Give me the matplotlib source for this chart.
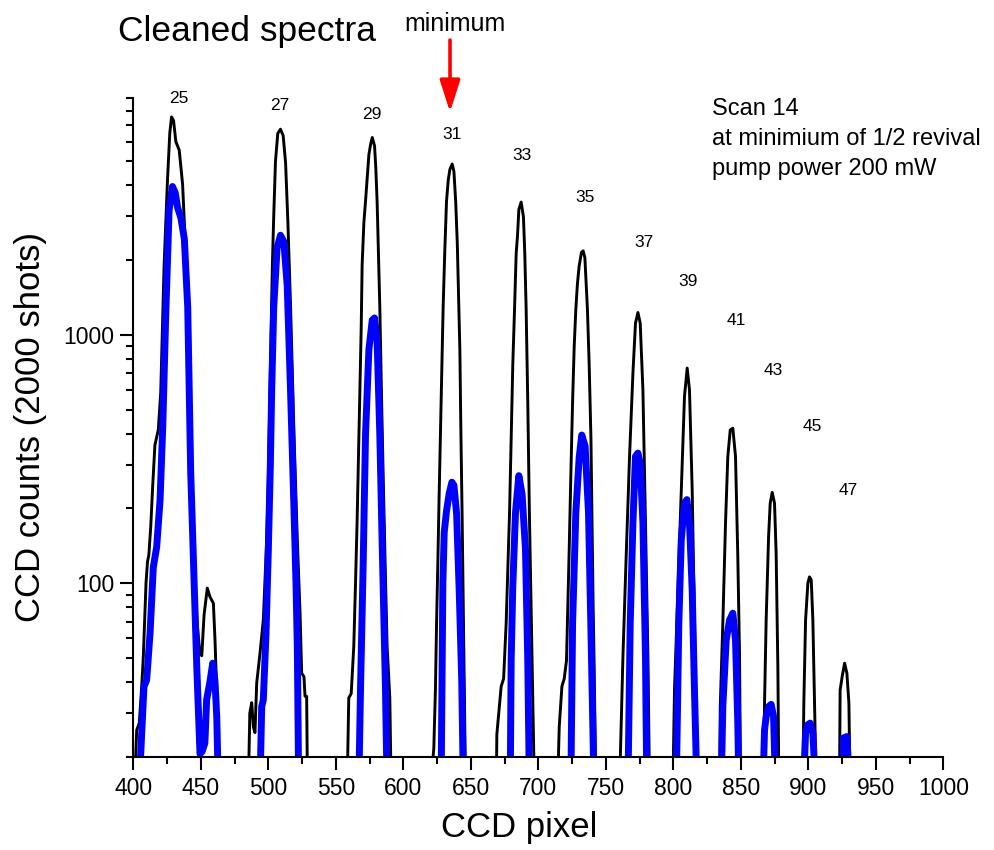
import matplotlib
matplotlib.use('Agg')
import matplotlib.pyplot as plt
from matplotlib.ticker import FixedLocator, FixedFormatter, MultipleLocator, NullFormatter

plt.rcParams['font.family'] = ['Liberation Sans', 'DejaVu Sans']

# black: raw spectrum, one group of points per harmonic (values < 20 fall below the axis)
black_px = [
    400.8, 402.5, 404.4, 406.2, 407.4, 409.4, 410.5, 411.5, 412.9, 414.4, 416, 418.5, 420.3, 422.8,
    425.3, 427, 428.3, 429.8, 431.5, 434, 436.5, 438.5, 440.3, 442.8, 445.3, 447.5, 449.3, 450.7,
    451.6, 452.4, 454.8, 456.8, 459.3, 460.5, 461.7, 463,                                      # 25
    485.2, 486.3, 487.7, 488.9, 490.1, 491.4, 493.8, 496.3, 498.8, 500, 501, 502, 503, 504,
    505.3, 507, 509, 511, 512.8, 514.5, 516.5, 519, 521.5, 523.5, 524.7, 526.4, 527.2, 528.4,
    529,                                                                                        # 27
    558.4, 559.6, 561.4, 563.3, 564.6, 565.8, 566.8, 567.8, 568.8, 569.5, 570.8, 572, 574.5,
    575.8, 577, 578.7, 579.6, 580.6, 581.6, 582.6, 583.8, 585.1, 586.5, 588, 590, 591,          # 29
    620.1, 622.6, 623.8, 624.6, 625.6, 626.5, 627.5, 628.5, 629.5, 630.7, 632, 633.3, 634.5,
    636.2, 637.5, 638.8, 640, 640.9, 641.9, 642.6, 643.6, 644.8, 646.1,                         # 31
    668.9, 669.3, 672.5, 674.3, 676.2, 678.7, 679.9, 681.1, 682.4, 683.6, 684.6, 685.6, 687.3,
    689, 690, 691, 692.2, 693.4, 694.4, 695.4, 697.1,                                           # 33
    714.3, 715.5, 717.5, 719.2, 720.9, 722.9, 724.1, 725.4, 726.6, 727.8, 729, 730.3, 732,
    733.2, 734.5, 736.4, 737.7, 739, 740.1, 740.6, 741.3, 742.6,                                # 35
    760.2, 762.7, 765.1, 767.6, 770.1, 772, 773.8, 775.5, 777.5, 779.4, 781.2, 782.4,           # 37
    799.7, 800.9, 803.4, 805.9, 808.3, 810.3, 812, 814, 815.7, 817.5,                           # 39
    834.3, 834.8, 836.7, 838.7, 840.4, 842.2, 844.1, 846.1, 847.8, 849.1, 849.8,                # 41
    866.9, 867.6, 868.8, 870.6, 871.8, 873.3, 875, 876.2, 877.5, 878.2,                         # 43
    896, 896.7, 898, 899.7, 900.9, 902.2, 903.4, 904.6, 905.9,                                  # 45
    923.1, 923.6, 925.1, 926.9, 928.6, 930.1, 931,                                              # 47
]
black_counts = [
    15, 25.6, 27.3, 38.3, 50.6, 100, 122, 130, 169, 250, 360, 415, 587, 1910,
    4200, 6490, 7550, 7300, 6000, 5550, 4040, 2330, 870, 267, 100, 67, 52, 51,
    62, 74.5, 95.5, 88, 83, 59, 38, 15,
    15, 30, 33, 26.4, 25, 39.6, 52, 71, 150, 260, 500, 1000, 1900, 3000,
    5000, 6480, 6740, 6350, 4920, 2840, 1291, 396, 148, 76, 43.4, 42, 35, 35,
    15,
    15, 34.5, 35.9, 55.5, 100, 180, 326, 587, 1062, 1914, 2840, 3450, 5320,
    5870, 6240, 5770, 4730, 3450, 2150, 1291, 587, 267, 122, 55.5, 34.5, 15,
    15, 21.6, 37.4, 67, 122, 220, 396, 716, 1291, 2150, 3450, 4210, 4640,
    4880, 4550, 3450, 2333, 1452, 871, 429, 180, 55.5, 15,
    15, 24.6, 38.4, 41.2, 69, 192, 382, 758, 1268, 2120, 2512, 3200, 3427,
    2987, 2120, 1268, 538, 192, 97, 48.9, 15,
    15, 26.3, 38.4, 41.2, 48.9, 137, 271, 538, 899, 1268, 1610, 1900, 2150,
    2180, 2050, 1268, 758, 382, 137, 82, 48.9, 15,
    15, 50.6, 128, 324, 701, 1115, 1231, 1115, 601, 175, 50.6, 15,
    15, 37.1, 94, 238, 565, 735, 601, 238, 69, 15,
    15, 31.9, 69, 175, 324, 414, 421, 324, 128, 50.6, 15,
    15, 32.9, 71, 154, 210, 232, 210, 132, 44.8, 15,
    15, 32.9, 71, 100, 106, 103, 71, 32.9, 15,
    15, 37.1, 42, 47.6, 43.4, 32.9, 15,
]

# blue: cleaned spectrum
blue_px = [
    404.3, 406.2, 407.9, 409.9, 412.4, 414.8, 417.3, 419.8, 421.8, 424, 426.5, 429, 431, 432.8,
    435.3, 437.8, 440.3, 442.5, 444.6, 447, 449.4, 451, 453, 454.3, 456.8, 458.8, 460.5, 461.8,
    463,                                                                                        # 25
    493.8, 495.1, 496.3, 498.3, 500, 501.5, 502.5, 504, 506.5, 509, 511.5, 514, 516.5, 519,
    520.5, 521.5, 522.5,                                                                        # 27
    567, 568.3, 570.3, 572, 574.5, 577, 578.7, 580.6, 582.6, 584.3, 586.8, 588,                 # 29
    628, 629.3, 630.3, 632, 634, 636, 637.5, 639.5, 641.5, 643.3, 644.5,                        # 31
    679.2, 679.9, 681.1, 683.1, 685.6, 688, 690.5, 692.2, 693.4,                                # 33
    724.1, 725.4, 727.8, 730.3, 732.2, 734.7, 737.2, 738.9, 741.3,                              # 35
    766.4, 768.1, 770.1, 772, 773.8, 775.5, 777.5, 779.4, 780.4,                                # 37
    802.2, 804.1, 805.9, 808.3, 810.1, 812, 814, 815.7, 817.5,                                  # 39
    835.5, 836.7, 839.2, 841.7, 844.1, 846.1, 847.8, 848.6,                                     # 41
    866.4, 867.6, 868.8, 870.8, 872.5, 874.3, 875.7,                                            # 43
    896.5, 898, 899.7, 901.4, 903.4, 905.4,                                                     # 45
    925.1, 926.1, 928.6, 930.6,                                                                 # 47
]
blue_counts = [
    15, 24.9, 38.3, 40.8, 63, 116, 140, 216, 428, 1194, 3190, 3960, 3740, 3260,
    2950, 2430, 1290, 280, 120, 46, 20.5, 21, 22.7, 33.9, 40.2, 47.6, 40.2, 29,
    15,
    15, 31.8, 33.9, 63, 136, 300, 600, 1291, 2240, 2520, 2375, 1575, 587, 200,
    100, 55, 15,
    15, 37.4, 122, 396, 871, 1148, 1170, 942, 396, 148, 37.4, 15,
    15, 100, 160, 195, 230, 255, 248, 190, 90, 40, 15,
    15, 48.9, 97, 192, 271, 228, 137, 48.9, 15,
    15, 69, 192, 321, 395, 356, 192, 69, 15,
    15, 69, 175, 324, 334, 304, 175, 50.6, 15,
    15, 69, 149, 210, 217, 175, 94, 37, 15,
    15, 31.9, 59, 71, 75.7, 59, 27.3, 15,
    15, 25.6, 29, 31.9, 32.5, 29, 15,
    15, 24.9, 26.9, 27.3, 24.9, 15,
    15, 23.8, 24.1, 15,
]

orders = [25, 27, 29, 31, 33, 35, 37, 39, 41, 43, 45, 47]
order_px = [433.9, 508.7, 576.8, 636.1, 687.9, 734.6, 778.3, 810.9, 846.4, 873.9, 902.7, 929.4]
order_counts = [8990, 8430, 7690, 6400, 5260, 3565, 2350, 1634, 1138, 722, 426, 236]

fig = plt.figure(figsize=(9.95, 8.5), dpi=100)
ax = fig.add_axes([0.134, 0.1098, 0.814, 0.7749])

ax.plot(black_px, black_counts, color='black', lw=2.1)
ax.plot(blue_px, blue_counts, color='#0000ff', lw=5.0, solid_joinstyle='round')

ax.set_yscale('log')
ax.set_xlim(400, 1000)
ax.set_ylim(20, 9000)

ax.xaxis.set_major_locator(MultipleLocator(50))
ax.xaxis.set_minor_locator(MultipleLocator(25))
ax.yaxis.set_major_locator(FixedLocator([100, 1000]))
ax.yaxis.set_major_formatter(FixedFormatter(['100', '1000']))
minors = [m * 10 ** k for k in (1, 2, 3) for m in range(2, 10)]
ax.yaxis.set_minor_locator(FixedLocator(minors))
ax.yaxis.set_minor_formatter(NullFormatter())

for side in ('top', 'right'):
    ax.spines[side].set_visible(False)
for side in ('left', 'bottom'):
    ax.spines[side].set_linewidth(1.5)
ax.tick_params(which='major', direction='out', length=9.5, width=1.5, labelsize=16.5)
ax.tick_params(axis='x', which='major', pad=5)
ax.tick_params(axis='y', which='major', pad=4)
ax.tick_params(which='minor', direction='out', length=5, width=1.5)

ax.set_xlabel('CCD pixel', fontsize=25, va='center')
ax.xaxis.set_label_coords(0.477, -0.108)
ax.set_ylabel('CCD counts (2000 shots)', fontsize=25, va='center')
ax.yaxis.set_label_coords(-0.1275, 0.5)

for n, xp, yc in zip(orders, order_px, order_counts):
    ax.text(xp, yc, str(n), fontsize=12.5, ha='center', va='center', clip_on=False)

fig.text(118 / 995, 1 - 31 / 850, 'Cleaned spectra', fontsize=25.5, ha='left', va='center')
fig.text(712 / 995, 1 - 139 / 850, 'Scan 14\nat minimium of 1/2 revival\npump power 200 mW',
         fontsize=17, ha='left', va='center', linespacing=1.45)

# arrow marking the minimum
ax.annotate('', xy=(634.6, 7900), xytext=(634.6, 15400), annotation_clip=False,
            arrowprops=dict(arrowstyle='-|>,head_length=0.97,head_width=0.31', color='red',
                            lw=2.6, mutation_scale=20, shrinkA=0, shrinkB=0))
ax.text(638.3, 17870, 'minimum', fontsize=18, ha='center', va='center', clip_on=False)

fig.savefig('out.png', dpi=100)
